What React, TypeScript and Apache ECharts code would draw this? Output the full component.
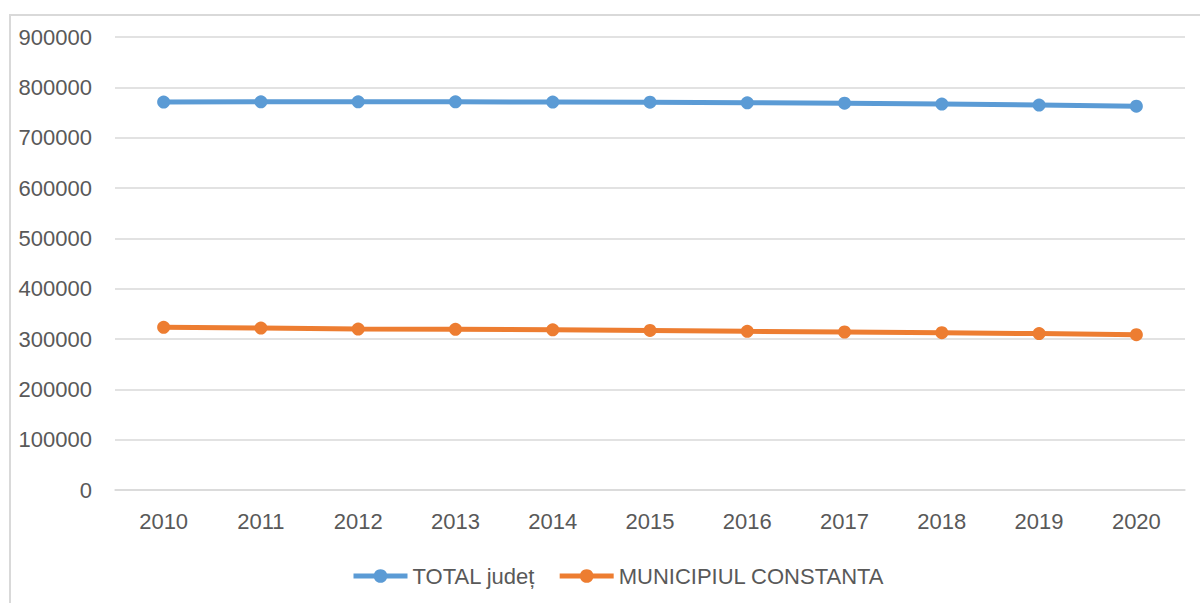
import React, { useEffect, useRef } from "react";
import * as echarts from "echarts";

const years = ["2010", "2011", "2012", "2013", "2014", "2015", "2016", "2017", "2018", "2019", "2020"];
const totalJudet = [770800, 771200, 771300, 771200, 770700, 770400, 769300, 768600, 766800, 764700, 762600];
const municipiul = [323200, 321800, 319700, 319200, 318300, 316900, 315300, 313900, 312500, 310700, 308600];
const seriesNames = ["TOTAL județ", "MUNICIPIUL CONSTANTA"];

const FONT = "'Liberation Sans', Arial, sans-serif";

export default function App() {
  const ref = useRef<HTMLDivElement>(null);
  useEffect(() => {
    document.body.style.margin = "0";
    const chart = echarts.init(ref.current!, null, { renderer: "svg" });
    chart.setOption({
      animation: false,
      backgroundColor: "#ffffff",
      graphic: [
        {
          type: "rect",
          shape: { x: 10, y: 15, width: 1200, height: 600 },
          style: { fill: "none", stroke: "#D9D9D9", lineWidth: 2 },
          silent: true,
        },
      ],
      grid: { left: 115, right: 15, top: 37, bottom: 113 },
      legend: {
        left: 346,
        top: 560,
        itemWidth: 54,
        itemHeight: 17,
        itemGap: 22,
        lineStyle: { width: 5 },
        textStyle: { fontFamily: FONT, fontSize: 22, color: "#595959" },
        data: seriesNames,
      },
      xAxis: {
        type: "category",
        data: years,
        boundaryGap: true,
        axisLine: { show: true, lineStyle: { color: "#D9D9D9", width: 1.5 } },
        axisTick: { show: false },
        axisLabel: { fontFamily: FONT, fontSize: 22, color: "#595959", margin: 20 },
      },
      yAxis: {
        type: "value",
        min: 0,
        max: 900000,
        interval: 100000,
        axisLine: { show: false },
        axisTick: { show: false },
        splitLine: { lineStyle: { color: "#D9D9D9", width: 1.5 } },
        axisLabel: {
          fontFamily: FONT,
          fontSize: 22,
          color: "#595959",
          margin: 23,
          formatter: (v: number) => String(v),
        },
      },
      series: [
        {
          name: seriesNames[0],
          type: "line",
          data: totalJudet,
          symbol: "circle",
          symbolSize: 13,
          itemStyle: { color: "#5B9BD5" },
          lineStyle: { color: "#5B9BD5", width: 5 },
        },
        {
          name: seriesNames[1],
          type: "line",
          data: municipiul,
          symbol: "circle",
          symbolSize: 13,
          itemStyle: { color: "#ED7D31" },
          lineStyle: { color: "#ED7D31", width: 5 },
        },
      ],
    });
    return () => chart.dispose();
  }, []);
  return (
    <div
      ref={ref}
      style={{ position: "absolute", left: 0, top: 0, width: 1200, height: 603 }}
    />
  );
}
